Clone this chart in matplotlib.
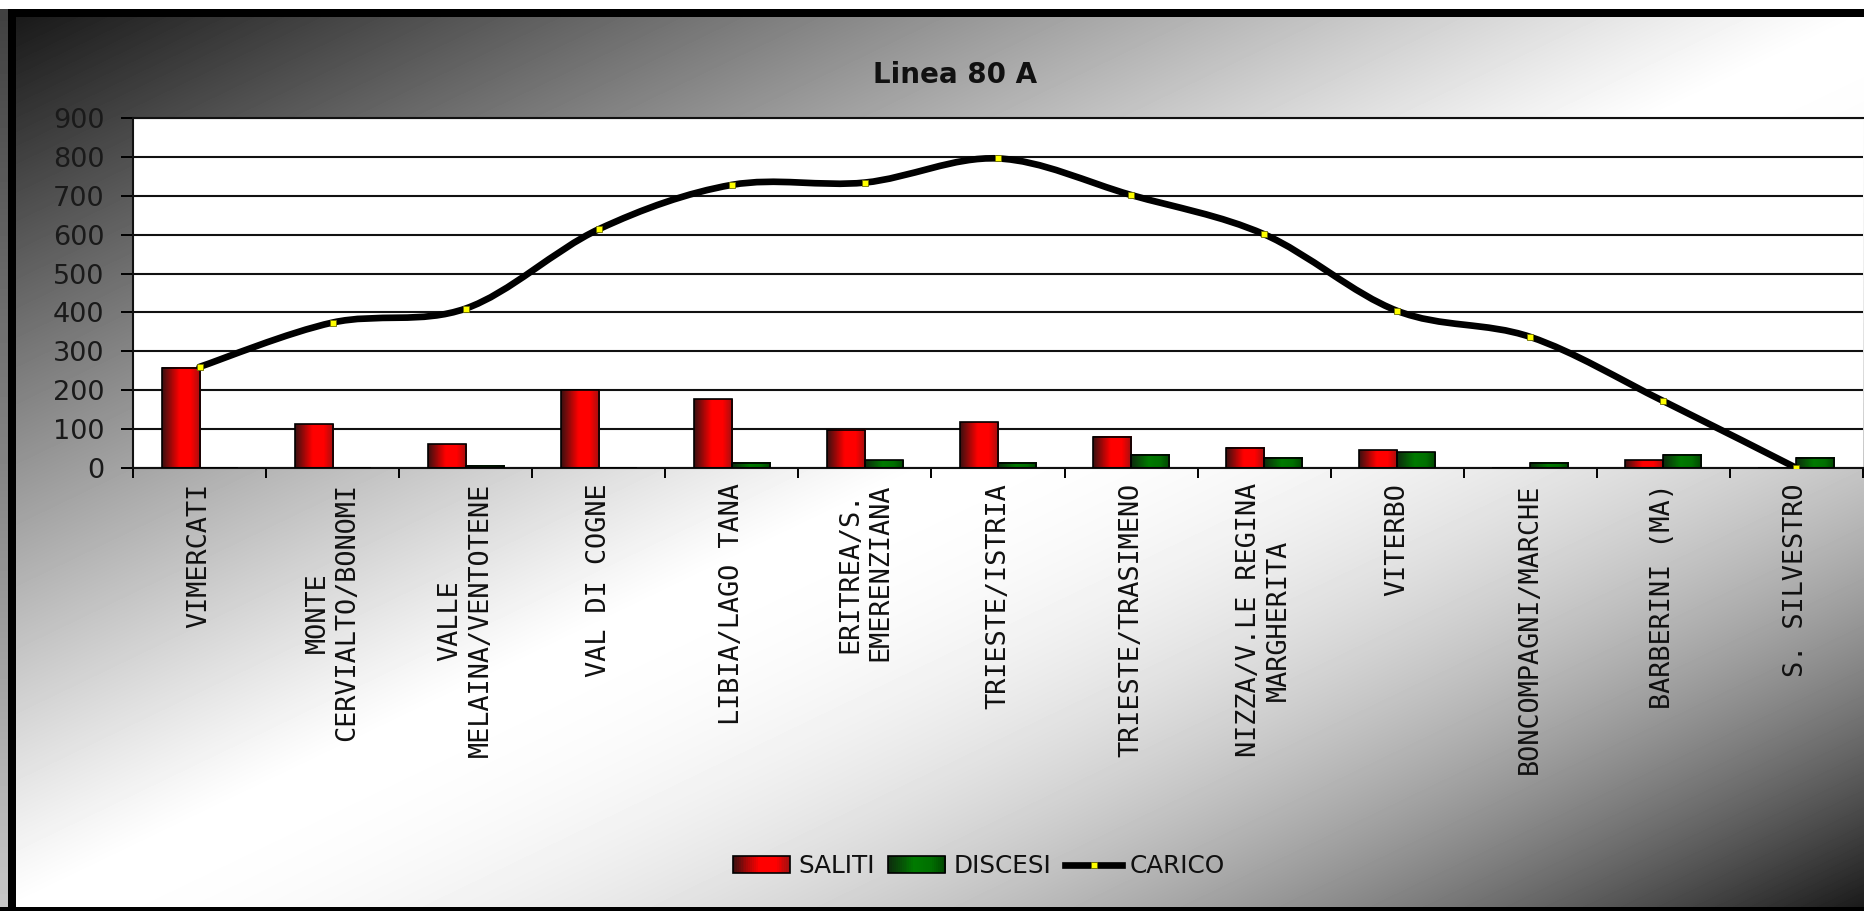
import matplotlib
matplotlib.use("Agg")
import matplotlib.pyplot as plt
import numpy as np
from matplotlib.colors import LinearSegmentedColormap
from matplotlib.legend_handler import HandlerBase
from matplotlib.lines import Line2D
from matplotlib.patches import PathPatch, Rectangle
from matplotlib.path import Path

# data
stops = [
    "VIMERCATI",
    "MONTE\nCERVIALTO/BONOMI",
    "VALLE\nMELAINA/VENTOTENE",
    "VAL DI COGNE",
    "LIBIA/LAGO TANA",
    "ERITREA/S.\nEMERENZIANA",
    "TRIESTE/ISTRIA",
    "TRIESTE/TRASIMENO",
    "NIZZA/V.LE REGINA\nMARGHERITA",
    "VITERBO",
    "BONCOMPAGNI/MARCHE",
    "BARBERINI (MA)",
    "S. SILVESTRO",
]
saliti = [258, 113, 61, 200, 177, 98, 118, 81, 52, 46, 0, 20, 0]
discesi = [0, 0, 6, 0, 14, 20, 14, 34, 26, 40, 14, 34, 26]
carico = [260, 374, 410, 614, 728, 734, 796, 702, 601, 404, 337, 172, 0]
yticks = list(range(0, 1000, 100))

W, H, DPI = 1865, 911, 100

red_cmap = LinearSegmentedColormap.from_list(
    "red3d", [(0, "#3a1010"), (0.45, "#ff0000"), (0.75, "#ff0000"), (1, "#a01010")])
green_cmap = LinearSegmentedColormap.from_list(
    "green3d", [(0, "#0d2a0d"), (0.45, "#007a00"), (0.75, "#007000"), (1, "#004400")])


class GradientHandler(HandlerBase):
    def __init__(self, cmap, n=30):
        super().__init__()
        self.cmap = cmap
        self.n = n

    def create_artists(self, legend, orig_handle, xdescent, ydescent,
                       width, height, fontsize, trans):
        x0, y0 = -xdescent, -ydescent
        arts = []
        for i in range(self.n):
            arts.append(Rectangle((x0 + i * width / self.n, y0), width / self.n * 1.1, height,
                                  facecolor=self.cmap((i + 0.5) / self.n), edgecolor="none",
                                  transform=trans))
        arts.append(Rectangle((x0, y0), width, height, fill=False, edgecolor="black",
                              lw=1.2, transform=trans))
        return arts


def background():
    yy, xx = np.mgrid[0:H, 0:W].astype(float)
    d = (xx - 16) / 1849 + (yy - 17) / 890 - 1
    f = np.where(d < 0, 1 - 0.9 * np.abs(d) ** 1.1, 1 - 0.9 * d ** 2)
    f = np.clip(f, 0.1, 1)
    f = np.where(xx < 8, 0.25 + 0.53 * yy / H, f)
    f[(xx >= 8) & (xx < 16) & (yy >= 9)] = 0
    f[(yy >= 9) & (yy < 17) & (xx >= 8)] = 0
    f[yy >= 907] = 0
    f[yy < 9] = 1
    return f


fig = plt.figure(figsize=(W / DPI, H / DPI), dpi=DPI)
bg = fig.add_axes([0, 0, 1, 1], zorder=-1)
bg.imshow(background(), cmap="gray", vmin=0, vmax=1, extent=(0, 1, 0, 1),
          aspect="auto", interpolation="nearest")
bg.axis("off")

ax = fig.add_axes([133 / W, 1 - 468 / H, 1730 / W, 350 / H])
ax.set_facecolor("white")

x = np.arange(len(stops))
w = 1 / 3.5
grad = np.linspace(0, 1, 64).reshape(1, -1)
for i in x:
    if saliti[i] > 0:
        ax.imshow(grad, cmap=red_cmap, extent=(i - w, i, 0, saliti[i]), aspect="auto",
                  interpolation="bilinear", zorder=2)
    if discesi[i] > 0:
        ax.imshow(grad, cmap=green_cmap, extent=(i, i + w, 0, discesi[i]), aspect="auto",
                  interpolation="bilinear", zorder=2)
ax.bar(x - w / 2, saliti, w, fill=False, edgecolor="black", lw=1.2, zorder=3)
ax.bar(x + w / 2, discesi, w, fill=False, edgecolor="black", lw=1.2, zorder=3)

# smoothed load line (Catmull-Rom as Bezier segments)
pts = np.column_stack([x, carico]).astype(float)
padded = np.vstack([pts[0], pts, pts[-1]])
verts = [pts[0]]
codes = [Path.MOVETO]
for k in range(len(pts) - 1):
    p0, p1, p2, p3 = padded[k], padded[k + 1], padded[k + 2], padded[k + 3]
    verts += [p1 + (p2 - p0) / 6, p2 - (p3 - p1) / 6, p2]
    codes += [Path.CURVE4] * 3
ax.add_patch(PathPatch(Path(verts, codes), fill=False, edgecolor="black", lw=4.8,
                       capstyle="round", joinstyle="round", zorder=4))
ax.plot(x, carico, ls="none", marker="s", ms=4.3, mfc="yellow", mec="#707000", mew=0.6,
        zorder=5)

ax.set_xlim(-0.5, len(stops) - 0.5)
ax.set_ylim(0, 900)
ax.set_yticks(yticks)
ax.set_axisbelow(True)
ax.yaxis.grid(True, color="#111111", lw=1.5)
ax.spines["right"].set_visible(False)
for side in ("left", "bottom", "top"):
    ax.spines[side].set_linewidth(1.5)
    ax.spines[side].set_color("#111111")

ax.set_xticks(x)
ax.set_xticklabels(stops, rotation=90, va="top", ha="center", multialignment="center",
                   family="DejaVu Sans Mono", fontsize=19.4, color="#111111")
ax.set_xticks(np.arange(-0.5, len(stops), 1), minor=True)
ax.tick_params(axis="x", which="major", length=0, pad=11)
ax.tick_params(axis="x", which="minor", length=7.2, width=1.4, direction="out")
ax.tick_params(axis="y", length=8.6, width=1.4, pad=12, labelsize=19.5,
               labelcolor="#1a1a1a")

fig.text(955 / W, 1 - 83 / H, "Linea 80 A", ha="center", va="baseline", fontsize=20,
         fontweight="bold", color="#111111")

h_sal = Rectangle((0, 0), 1, 1)
h_dis = Rectangle((0, 0), 1, 1)
h_car = Line2D([], [], color="black", lw=4.8, marker="s", ms=4.3, mfc="yellow",
               mec="#707000", mew=0.6)
leg = fig.legend([h_sal, h_dis, h_car], ["SALITI", "DISCESI", "CARICO"], loc="center",
                 bbox_to_anchor=(0.525, 1 - 866 / H), ncol=3, frameon=False, fontsize=17.8,
                 handlelength=2.3, handleheight=0.65, handletextpad=0.32, columnspacing=0.57,
                 handler_map={h_sal: GradientHandler(red_cmap), h_dis: GradientHandler(green_cmap)})
for t in leg.get_texts():
    t.set_color("#111111")

fig.savefig("out.png", dpi=DPI)
plt.close(fig)
